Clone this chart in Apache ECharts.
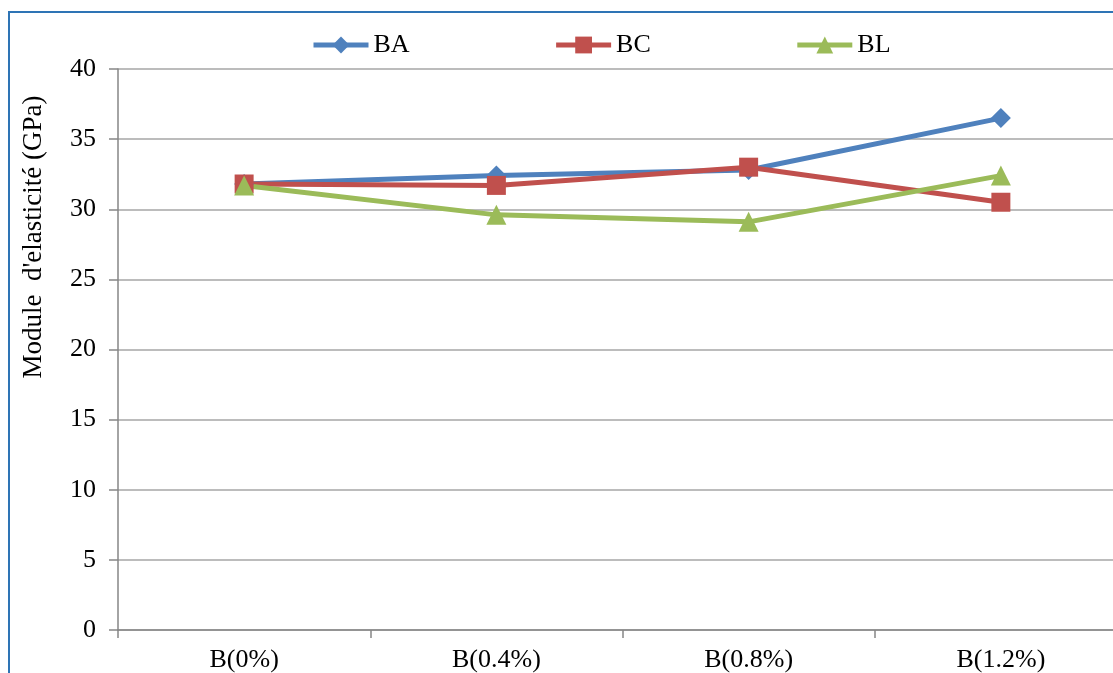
<!DOCTYPE html>
<html>
<head>
<meta charset="utf-8">
<script src="https://cdn.jsdelivr.net/npm/echarts@6/dist/echarts.min.js"></script>
<style>
  html, body { margin: 0; padding: 0; background: #fff; }
  #chart { width: 1113px; height: 673px; }
</style>
</head>
<body>
<div id="chart"></div>
<script>
// Elastic modulus (GPa) per mix
const categories = ['B(0%)', 'B(0.4%)', 'B(0.8%)', 'B(1.2%)'];
const valuesBA = [31.8, 32.4, 32.8, 36.5];
const valuesBC = [31.8, 31.7, 33.0, 30.5];
const valuesBL = [31.7, 29.6, 29.1, 32.4];
const yTicks = { min: 0, max: 40, interval: 5 };

const font = 'Liberation Serif, Times New Roman, serif';
const chart = echarts.init(document.getElementById('chart'));

function line(name, data, color, symbol, size) {
  return {
    name, type: 'line', data, symbol, symbolSize: size,
    lineStyle: { color, width: 5 },
    itemStyle: { color },
    z: 3
  };
}

chart.setOption({
  animation: false,
  textStyle: { fontFamily: font },
  graphic: [
    { type: 'rect', shape: { x: 9, y: 12, width: 1200, height: 800 },
      style: { fill: 'none', stroke: '#2E74B5', lineWidth: 2 }, silent: true },
    { type: 'text', x: 34, y: 237, rotation: Math.PI / 2,
      style: { text: "Module  d'elasticité (GPa)", font: '27px ' + font, fill: '#000',
               align: 'center', verticalAlign: 'middle' } }
  ],
  legend: {
    top: 27, left: 306, itemGap: 144, itemWidth: 55, itemHeight: 21,
    textStyle: { fontSize: 26, color: '#000', fontFamily: font },
    lineStyle: { width: 5 },
    data: ['BA', 'BC', 'BL']
  },
  grid: { left: 118, width: 1009, top: 69, bottom: 43, containLabel: false, outerBoundsMode: 'none' },
  xAxis: {
    type: 'category', data: categories, boundaryGap: true,
    axisLine: { lineStyle: { color: '#868686', width: 1.5 } },
    axisTick: { show: true, length: 8, lineStyle: { color: '#868686', width: 1.5 } },
    axisLabel: { fontSize: 26, color: '#000', margin: 17, fontFamily: font }
  },
  yAxis: {
    type: 'value', min: yTicks.min, max: yTicks.max, interval: yTicks.interval,
    axisLine: { show: true, lineStyle: { color: '#868686', width: 1.5 } },
    axisTick: { show: true, length: 9, lineStyle: { color: '#868686', width: 1.5 } },
    axisLabel: { fontSize: 26, color: '#000', margin: 22, fontFamily: font },
    splitLine: { lineStyle: { color: '#A6A6A6', width: 1.5 } }
  },
  series: [
    line('BA', valuesBA, '#4F81BD', 'diamond', 20),
    line('BC', valuesBC, '#C0504D', 'rect', 19),
    line('BL', valuesBL, '#9BBB59', 'triangle', 20)
  ]
});
</script>
</body>
</html>
